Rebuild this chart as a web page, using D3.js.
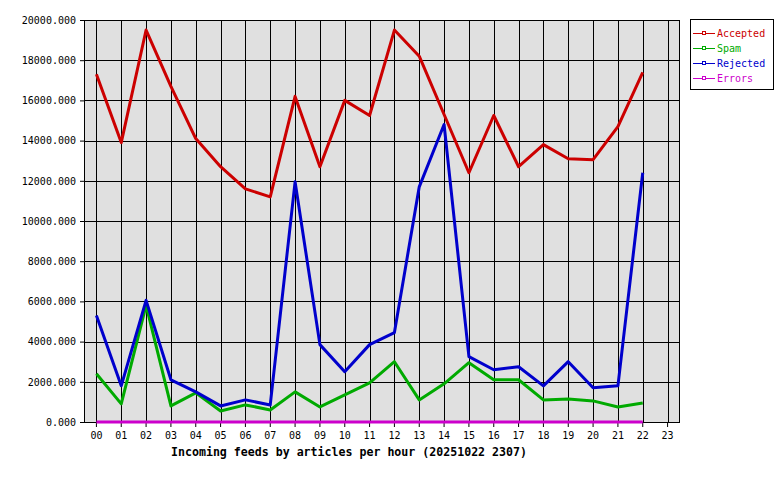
<!DOCTYPE html>
<html>
<head>
<meta charset="utf-8">
<script src="https://cdn.jsdelivr.net/npm/d3@7/dist/d3.min.js"></script>
<style>
  body { margin: 0; background: #fff; }
  svg { display: block; font-family: "DejaVu Sans Mono", monospace; }
</style>
</head>
<body>
<svg width="780" height="480"></svg>
<script>
// Incoming feeds by articles per hour

// Data
const hours = d3.range(24).map(h => String(h).padStart(2, "0"));
const yTicks = [0, 2000, 4000, 6000, 8000, 10000, 12000, 14000, 16000, 18000, 20000];

const accepted = [17300, 13900, 19500, 16700, 14100, 12700, 11600, 11200, 16200, 12700, 16000, 15250,
                  19500, 18200, 15300, 12400, 15250, 12700, 13800, 13100, 13050, 14700, 17400];
const spam     = [2400, 900, 5800, 800, 1450, 550, 850, 600, 1500, 750, 1350, 1950,
                  3000, 1100, 1900, 2950, 2100, 2100, 1100, 1150, 1050, 750, 950];
const rejected = [5300, 1800, 6050, 2100, 1500, 800, 1100, 850, 11950, 3850, 2500, 3850,
                  4450, 11700, 14800, 3250, 2600, 2750, 1800, 3000, 1700, 1800, 12400];
const errors   = [0, 0, 0, 0, 0, 0, 0, 0, 0, 0, 0, 0, 0, 0, 0, 0, 0, 0, 0, 0, 0, 0, 0];

const seriesNames = ["Accepted", "Spam", "Rejected", "Errors"];
const seriesColors = ["#cc0000", "#00aa00", "#0000cc", "#cc00cc"];
const seriesValues = [accepted, spam, rejected, errors];

// Layout
const svg = d3.select("svg");
const plotL = 84, plotR = 680, plotT = 20, plotB = 422;

const x = d3.scaleBand().domain(hours).range([plotL, plotR]);
const y = d3.scaleLinear().domain([0, 20000]).range([plotB, plotT]);
const xc = h => x(h) + x.bandwidth() / 2;

// Plot background
svg.append("rect")
    .attr("x", plotL).attr("y", plotT)
    .attr("width", plotR - plotL).attr("height", plotB - plotT)
    .attr("fill", "#e0e0e0");

// Horizontal grid + y labels
const yAxis = svg.append("g")
    .attr("transform", `translate(${plotL},0)`)
    .call(d3.axisLeft(y).tickValues(yTicks).tickSize(4).tickPadding(4)
        .tickFormat(d => d3.format(".3f")(d)));
yAxis.select(".domain").remove();
yAxis.selectAll("text").attr("font-size", 10).attr("font-family", "DejaVu Sans Mono").attr("fill", "#000");
yAxis.selectAll("line").attr("stroke", "#000");

svg.append("g").selectAll("line")
    .data(yTicks)
    .enter().append("line")
    .attr("x1", plotL).attr("x2", plotR)
    .attr("y1", d => Math.round(y(d)) + 0.5).attr("y2", d => Math.round(y(d)) + 0.5)
    .attr("stroke", "#000");

// Vertical grid + x labels
const xAxis = svg.append("g")
    .attr("transform", `translate(0,${plotB})`)
    .call(d3.axisBottom(x).tickSize(5).tickPadding(5));
xAxis.select(".domain").remove();
xAxis.selectAll("text").attr("font-size", 10).attr("font-family", "DejaVu Sans Mono").attr("fill", "#000");
xAxis.selectAll("line").attr("stroke", "#000");

svg.append("g").selectAll("line")
    .data(hours)
    .enter().append("line")
    .attr("x1", d => Math.round(xc(d)) + 0.5).attr("x2", d => Math.round(xc(d)) + 0.5)
    .attr("y1", plotT).attr("y2", plotB)
    .attr("stroke", "#000");

// Plot border
svg.append("rect")
    .attr("x", plotL + 0.5).attr("y", plotT + 0.5)
    .attr("width", plotR - plotL - 1).attr("height", plotB - plotT)
    .attr("fill", "none").attr("stroke", "#000");

// Lines
const line = d3.line()
    .x((d, i) => xc(hours[i]))
    .y(d => y(d));

seriesValues.forEach((vals, i) => {
    svg.append("path")
        .datum(vals)
        .attr("d", line)
        .attr("fill", "none")
        .attr("stroke", seriesColors[i])
        .attr("stroke-width", 3)
        .attr("stroke-linejoin", "round");
});

// Title
svg.append("text")
    .attr("x", 349).attr("y", 456)
    .attr("text-anchor", "middle")
    .attr("font-size", 11.6)
    .attr("font-weight", "bold")
    .text("Incoming feeds by articles per hour (20251022 2307)");

// Legend
const legend = svg.append("g");
legend.append("rect")
    .attr("x", 690.5).attr("y", 19.5)
    .attr("width", 83).attr("height", 70)
    .attr("fill", "#fff").attr("stroke", "#000");

const item = legend.selectAll("g.item")
    .data(seriesNames)
    .enter().append("g")
    .attr("class", "item")
    .attr("transform", (d, i) => `translate(0,${33 + i * 15})`);

item.append("line")
    .attr("x1", 693).attr("x2", 715)
    .attr("y1", 0.5).attr("y2", 0.5)
    .attr("stroke", (d, i) => seriesColors[i]);
item.append("rect")
    .attr("x", 702.5).attr("y", -1.5)
    .attr("width", 3).attr("height", 3)
    .attr("fill", "#fff")
    .attr("stroke", (d, i) => seriesColors[i]);
item.append("text")
    .attr("x", 717).attr("y", 4)
    .attr("font-size", 10)
    .attr("fill", (d, i) => seriesColors[i])
    .text(d => d);
</script>
</body>
</html>
